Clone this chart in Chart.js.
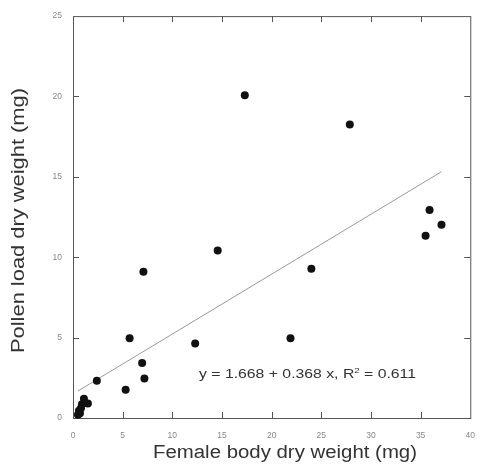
<!DOCTYPE html>
<html>
<head>
<meta charset="utf-8">
<script src="https://cdn.jsdelivr.net/npm/chart.js@4.4.0/dist/chart.umd.min.js"></script>
<style>
  body { margin: 0; background: #fff; }
  #wrap { width: 488px; height: 470px; }
</style>
</head>
<body>
<div id="wrap"><canvas id="chart"></canvas></div>
<script>
// female body dry weight (mg) vs pollen load dry weight (mg)
const bodyWeight = [0.5, 0.7, 0.6, 0.8, 0.9, 1.1, 1.2, 1.5, 2.4, 5.3, 5.7, 6.96, 7.09, 7.19, 12.3, 14.57, 17.3, 21.9, 24.0, 27.87, 35.5, 35.9, 37.1];
const pollenLoad = [0.2, 0.3, 0.45, 0.6, 0.85, 1.2, 0.95, 0.9, 2.31, 1.76, 4.96, 3.42, 9.09, 2.46, 4.63, 10.42, 20.07, 4.96, 9.29, 18.26, 11.34, 12.94, 12.02];

// regression line end points
const fitX = [0.5, 37.1];
const fitY = [1.68, 15.32];

const xTicks = [0, 5, 10, 15, 20, 25, 30, 35, 40];
const yTicks = [0, 5, 10, 15, 20, 25];

const xTitle = 'Female body dry weight (mg)';
const yTitle = 'Pollen load dry weight (mg)';
const eqMain = 'y = 1.668 + 0.368 x, R';
const eqSup = '2';
const eqTail = ' = 0.611';

const FONT = "'Liberation Sans', Arial, sans-serif";

// frame + inward tick marks on all four sides
const framePlugin = {
  id: 'frame',
  beforeDatasetsDraw(chart) {
    const { ctx, chartArea: a, scales: { x, y } } = chart;
    const tl = 6;
    ctx.save();
    ctx.strokeStyle = '#555';
    ctx.lineWidth = 1;
    ctx.strokeRect(a.left + 0.5, a.top + 0.5, a.right - a.left, a.bottom - a.top);
    ctx.beginPath();
    xTicks.slice(1, -1).forEach(v => {
      const px = Math.round(x.getPixelForValue(v)) + 0.5;
      ctx.moveTo(px, a.bottom); ctx.lineTo(px, a.bottom - tl);
      ctx.moveTo(px, a.top); ctx.lineTo(px, a.top + tl);
    });
    yTicks.slice(1, -1).forEach(v => {
      const py = Math.round(y.getPixelForValue(v)) + 0.5;
      ctx.moveTo(a.left, py); ctx.lineTo(a.left + tl, py);
      ctx.moveTo(a.right, py); ctx.lineTo(a.right - tl, py);
    });
    ctx.stroke();
    ctx.restore();
  },
  afterDraw(chart) {
    const { ctx } = chart;
    ctx.save();
    ctx.fillStyle = '#333';
    ctx.textBaseline = 'alphabetic';
    ctx.textAlign = 'left';

    // x title
    ctx.font = '18px ' + FONT;
    let w = ctx.measureText(xTitle).width;
    ctx.save();
    ctx.translate(153, 458);
    ctx.scale(264 / w, 1);
    ctx.fillText(xTitle, 0, 0);
    ctx.restore();

    // y title
    w = ctx.measureText(yTitle).width;
    ctx.save();
    ctx.translate(23.5, 353);
    ctx.rotate(-Math.PI / 2);
    ctx.scale(265 / w, 1);
    ctx.fillText(yTitle, 0, 0);
    ctx.restore();

    // regression equation
    ctx.font = '13px ' + FONT;
    const w1 = ctx.measureText(eqMain).width;
    const w3 = ctx.measureText(eqTail).width;
    ctx.font = '8px ' + FONT;
    const w2 = ctx.measureText(eqSup).width;
    const sx = 217 / (w1 + w2 + w3);
    ctx.save();
    ctx.translate(199, 378);
    ctx.scale(sx, 1);
    ctx.font = '13px ' + FONT;
    ctx.fillText(eqMain, 0, 0);
    ctx.font = '8px ' + FONT;
    ctx.fillText(eqSup, w1, -5);
    ctx.font = '13px ' + FONT;
    ctx.fillText(eqTail, w1 + w2, 0);
    ctx.restore();

    ctx.restore();
  }
};

new Chart(document.getElementById('chart'), {
  type: 'scatter',
  data: {
    datasets: [
      {
        type: 'line',
        data: fitX.map((v, i) => ({ x: v, y: fitY[i] })),
        borderColor: '#999',
        borderWidth: 1,
        pointRadius: 0,
        fill: false,
        order: 2
      },
      {
        data: bodyWeight.map((v, i) => ({ x: v, y: pollenLoad[i] })),
        backgroundColor: '#111',
        borderColor: '#111',
        borderWidth: 0,
        pointRadius: 4,
        pointHoverRadius: 4,
        clip: false,
        order: 1
      }
    ]
  },
  options: {
    responsive: true,
    maintainAspectRatio: false,
    animation: false,
    events: [],
    layout: { padding: { top: 11, right: 5, left: 0, bottom: 0 } },
    plugins: { legend: { display: false }, tooltip: { enabled: false } },
    scales: {
      x: {
        type: 'linear',
        min: 0,
        max: 40,
        afterBuildTicks: s => { s.ticks = xTicks.map(v => ({ value: v })); },
        afterFit: s => { s.height = 52; },
        grid: { display: false, drawTicks: false },
        border: { display: false },
        ticks: { padding: 13, color: '#888', font: { size: 8.5, family: FONT }, maxRotation: 0 }
      },
      y: {
        min: 0,
        max: 25,
        afterBuildTicks: s => { s.ticks = yTicks.map(v => ({ value: v })); },
        afterFit: s => { s.width = 73; },
        grid: { display: false, drawTicks: false },
        border: { display: false },
        ticks: { padding: 11, color: '#888', font: { size: 8.5, family: FONT } }
      }
    }
  },
  plugins: [framePlugin]
});
</script>
</body>
</html>
